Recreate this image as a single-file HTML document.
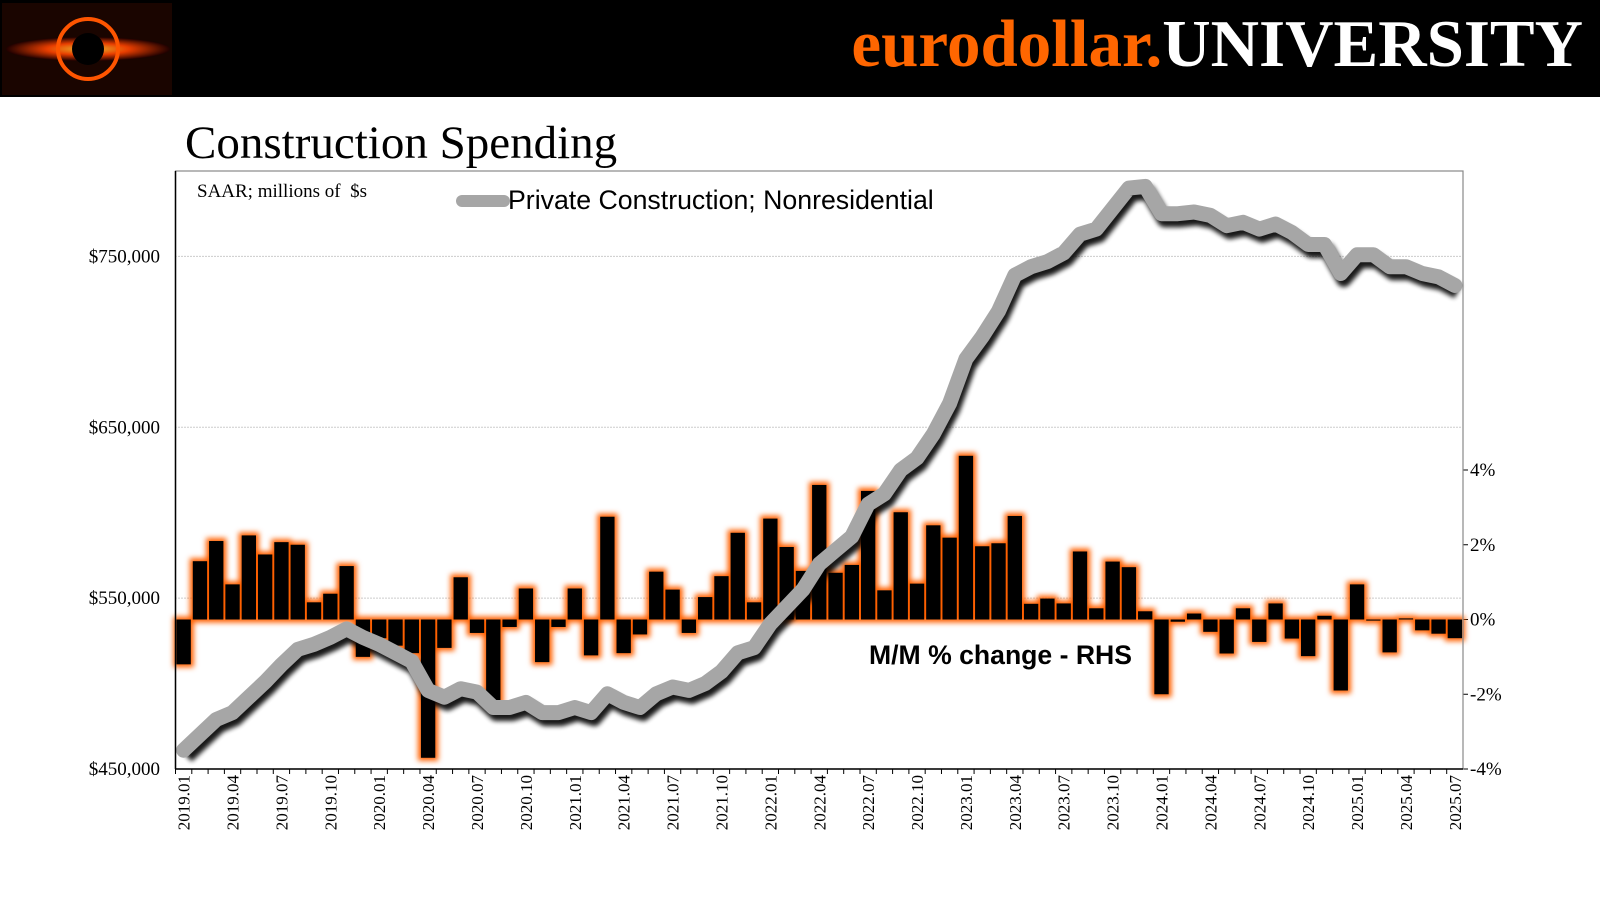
<!DOCTYPE html>
<html><head><meta charset="utf-8"><style>
body{margin:0;width:1600px;height:900px;background:#fff;overflow:hidden;font-family:"Liberation Serif",serif}
</style></head><body>
<svg width="1600" height="900" xmlns="http://www.w3.org/2000/svg">
<defs>
<filter id="glow" x="-50%" y="-50%" width="200%" height="200%"><feGaussianBlur stdDeviation="2.6"/></filter>
<filter id="shad" x="-10%" y="-10%" width="120%" height="120%"><feGaussianBlur stdDeviation="2.5"/></filter>
<radialGradient id="lg" cx="50%" cy="50%" r="50%"><stop offset="0" stop-color="#ffcc33"/><stop offset="0.5" stop-color="#ff4400"/><stop offset="1" stop-color="#200000"/></radialGradient>
</defs>
<rect x="0" y="0" width="1600" height="97" fill="#000"/>
<g>
<rect x="2" y="3" width="170" height="92" fill="#1a0500"/>
<ellipse cx="88" cy="49" rx="82" ry="12" fill="url(#lg)" opacity="0.9"/>
<circle cx="88" cy="49" r="30" fill="none" stroke="#ff5500" stroke-width="4"/>
<circle cx="88" cy="49" r="16" fill="#000"/>
</g>
<text x="1583" y="66" text-anchor="end" font-family="Liberation Serif" font-weight="bold" font-size="67"><tspan fill="#ff6600">eurodollar.</tspan><tspan fill="#fff">UNIVERSITY</tspan></text>
<text x="185" y="158" font-family="Liberation Serif" font-size="47" fill="#000">Construction Spending</text>
<g id="plot"></g>
</svg>
<script>
const months=[];for(let y=2019;y<=2025;y++)for(let m=1;m<=12;m++){if(y===2025&&m>7)break;months.push(y+'.'+String(m).padStart(2,'0'));}
const spending=[461,470,479,483,492,501,511,520,523,527,532,527,523,518,513,496,492,497,495,486,486,489,483,483,486,483,494,489,486,494,498,496,500,507,518,521,535,545,555,570,578,586,605,611,625,632,646,664,690,703,718,739,744,747,752,763,766,778,790,791,775,775,776,774,768,770,766,769,764,757,757,740,751,751,744,744,740,738,733];
const mmChange=[-1.2,1.56,2.1,0.94,2.25,1.74,2.07,2.0,0.46,0.69,1.43,-1.0,-0.5,-0.7,-0.9,-3.7,-0.76,1.13,-0.36,-2.2,-0.2,0.83,-1.14,-0.2,0.83,-0.96,2.75,-0.9,-0.4,1.28,0.8,-0.36,0.6,1.16,2.32,0.46,2.7,1.94,1.3,3.6,1.25,1.46,3.44,0.78,2.87,0.96,2.52,2.19,4.38,1.96,2.04,2.77,0.42,0.56,0.43,1.82,0.3,1.55,1.4,0.22,-2.0,-0.06,0.16,-0.33,-0.91,0.3,-0.6,0.43,-0.51,-0.98,0.1,-1.9,0.94,-0.03,-0.88,0.03,-0.29,-0.38,-0.5];
const leftTicks=[450000,550000,650000,750000];
const rightTicks=[-4,-2,0,2,4];
const NS='http://www.w3.org/2000/svg';
const g=document.getElementById('plot');
const X0=175.5,X1=1463,Y0=171,Y1=769;
const slot=(X1-X0)/months.length;
const xc=i=>X0+slot*(i+0.5);
const yL=v=>Y1-(v-450000)/350000*(Y1-Y0);
const yR=v=>Y1-(v+4)/16*(Y1-Y0);
function mk(t,a,p){const e=document.createElementNS(NS,t);for(const k in a)e.setAttribute(k,a[k]);(p||g).appendChild(e);return e;}
leftTicks.forEach(v=>{if(v>450000){const l=mk('line',{x1:X0,x2:X1,y1:yL(v),y2:yL(v),stroke:'#999','stroke-width':1,'stroke-dasharray':'1,2'});

}
const t=mk('text',{x:160,y:yL(v)+6,'text-anchor':'end','font-size':19,'font-family':'Liberation Serif'});t.textContent='$'+v.toLocaleString('en-US');

});
rightTicks.forEach(v=>{const t=mk('text',{x:1470,y:yR(v)+6,'font-size':19,'font-family':'Liberation Serif'});t.textContent=v+'%';


mk('line',{x1:X1,x2:X1+5,y1:yR(v),y2:yR(v),stroke:'#000'});});
const z=yR(0),bw=slot*0.88;
const glowG=mk('g',{filter:'url(#glow)'});
mmChange.forEach((v,i)=>{const y=Math.min(yR(v),z),h=Math.abs(yR(v)-z);
mk('rect',{x:xc(i)-bw/2-3,y:y-3,width:bw+6,height:h+6,fill:'#ff6000'},glowG);});
mmChange.forEach((v,i)=>{const y=Math.min(yR(v),z),h=Math.abs(yR(v)-z);
const r=mk('rect',{x:xc(i)-bw/2,y:y,width:bw,height:Math.max(h,1),fill:'#000'});

});
const pts=spending.map((v,i)=>xc(i).toFixed(1)+','+yL(v*1000).toFixed(1)).join(' ');
const sh=mk('polyline',{points:spending.map((v,i)=>(xc(i)+3).toFixed(1)+','+(yL(v*1000)+6).toFixed(1)).join(' '),fill:'none',stroke:'#000','stroke-width':15,'stroke-linejoin':'round',filter:'url(#shad)',opacity:0.9});


const ln=mk('polyline',{points:pts,fill:'none',stroke:'#a6a6a6','stroke-width':15,'stroke-linejoin':'round','stroke-linecap':'round'});


const fr=mk('rect',{x:X0,y:Y0,width:X1-X0,height:Y1-Y0,fill:'none',stroke:'#888','stroke-width':1.2});


mk('line',{x1:X0,x2:X0,y1:Y0,y2:Y1,stroke:'#000','stroke-width':1.5});
mk('line',{x1:X0,x2:X1,y1:Y1,y2:Y1,stroke:'#000','stroke-width':1.5});
months.forEach((m,i)=>{mk('line',{x1:X0+slot*i,x2:X0+slot*i,y1:Y1,y2:Y1+5,stroke:'#000'});
if(i%3===0){const t=mk('text',{x:0,y:0,'font-size':17,'font-family':'Liberation Serif','text-anchor':'end',transform:`translate(${xc(i)+6},${Y1+6}) rotate(-90)`});t.textContent=m;

}});
let t=mk('text',{x:197,y:197,'font-size':19,'font-family':'Liberation Serif','xml:space':'preserve'});t.textContent='SAAR; millions of \u00a0$s';


const lgl=mk('line',{x1:462,x2:504,y1:201,y2:201,stroke:'#a6a6a6','stroke-width':12,'stroke-linecap':'round'});


t=mk('text',{x:508,y:209,'font-size':26.7,'font-family':'Liberation Sans'});t.textContent='Private Construction; Nonresidential';


t=mk('text',{x:869,y:664,'font-size':26.6,'font-weight':'bold','font-family':'Liberation Sans'});t.textContent='M/M % change - RHS';


</script>
</body></html>
